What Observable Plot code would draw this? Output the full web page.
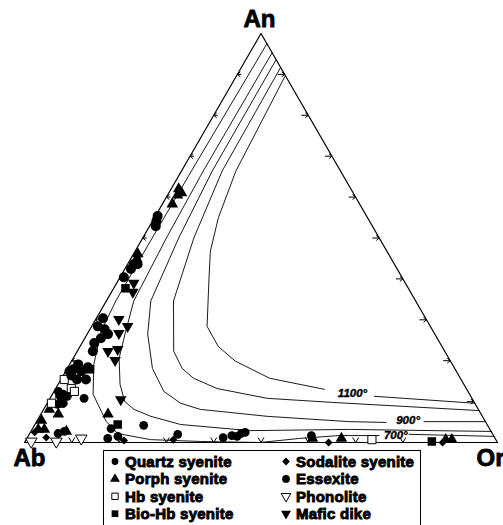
<!DOCTYPE html>
<html><head><meta charset="utf-8">
<script src="https://cdn.jsdelivr.net/npm/d3@7"></script>
<script src="https://cdn.jsdelivr.net/npm/@observablehq/plot@0.6"></script>
<style>
html,body{margin:0;padding:0;background:#fff;overflow:hidden;}
#wrap{position:relative;width:503px;height:525px;}
#wrap svg.leg{position:absolute;left:0;top:0;}
</style></head><body><div id="wrap"></div>
<script>
// ---- data: ternary compositions as [Or %, An %] (Ab = 100 - Or - An) ----
const vertexLabels = ["Ab", "Or", "An"];
const tickValues = [10, 20, 30, 40, 50, 60, 70, 80, 90];
const isothermNames = ["1100°", "900°", "700°"];
const isothermLabelPos = [[63.3, 12.1], [78.4, 5.4], [77.6, 1.8]];

// isotherms (null = gap for label)
const iso1100 = [[10.3,89.7],[11.5,66.4],[13.5,55],[15.9,46.8],[19.0,40],[24.4,28.4],[29.2,23.5],[34.6,19.9],[44.0,15.7],[56.9,13.0],null,[68.3,11.3],[90.4,9.6]];
const iso1000 = [[8.3,91.7],[8.6,66.4],[10.8,50],[14.2,34.6],[20.4,22.3],[24.3,18.1],[27.9,15.7],[34.1,13.2],[45.9,10.8],[60.2,9.8],[92.2,7.8]];
const iso900 = [[6.4,93.6],[6.5,66.4],[7.6,50],[9.4,34.6],[12.8,26.5],[18.0,18.1],[23.2,12.5],[28.2,9.6],[33.1,8.1],[48.1,6.4],[66.1,5.1],[74.0,4.9],null,[81.9,5.1],[94.9,5.1]];
const iso800 = [[4.7,95.3],[4.6,66.4],[5.0,50],[5.8,34.6],[7.8,27.2],[9.7,20.6],[13.1,14.2],[16.2,10.0],[19.1,8.1],[23.5,6.4],[30.8,4.4],[46.2,2.9],[67.1,3.2],[97.3,2.7]];
const iso700 = [[2.5,97.5],[2.1,66.4],[2.0,50],[2.0,34.6],[2.6,27.2],[5.1,19.1],[8.6,11.8],[14.7,5.15],[18.6,2.2],[26.3,0.7],[37.1,0.25],[49.8,0],[57.7,1.0],[65.7,1.7],[74.1,1.7],null,[80.3,2.0],[98.5,1.5]];

const categories = ["Quartz syenite","Porph syenite","Hb syenite","Bio-Hb syenite","Sodalite syenite","Essexite","Phonolite","Mafic dike"];

const quartzSyenite = [[7.2,10.8],[23.1,4.2],[16.6,3.4],[17.1,1.0],[19.0,1.5],[6.0,2.2],[7.1,2.7],[31.4,2.0],[41.4,1.2],[43.0,1.7],[44.2,1.5],[44.7,2.2],[45.4,2.5],[59.8,1.7],[0.9,12.5],[2.3,11.8],[2.5,10.5],[3.4,11.3],[2.3,9.3],[3.4,9.6]];
const porphSyenite = [[1.6,62.0],[2.7,61.0],[2.1,60.5],[2.1,58.3],[0.9,46.1],[1.3,44.9],[14.2,6.9],[1.2,8.1],[2.7,9.3],[0.9,5.4],[1.3,3.2],[2.6,3.2],[7.5,2.7],[60.4,1.0],[66.5,1.0],[88.7,0.7],[90.0,0.7],[3.7,6.9]];
const hbSyenite = [[0.7,15.4],[3.3,13.2],[4.3,12.5],[73.1,0.7],[0.9,9.6]];
const bioHbSyenite = [[2.5,37.7],[4.9,17.9],[17.5,4.4],[86.0,0.25],[1.5,11.8]];
const sodaliteSyenite = [[0.9,2.5],[4.0,1.2],[20.8,0.5],[31.1,0.7],[64.3,0],[88.4,0]];
const essexite = [[0.45,55.4],[0.8,54.2],[1.3,52.9],[1.3,43.6],[2.1,43.6],[1.3,42.4],[0.8,40.4],[1.4,30.4],[1.3,28.4],[3.1,27.7],[4.4,26.5],[3.4,25.5],[2.6,24.3],[3.3,22.3],[1.8,19.1],[1.4,17.9],[1.7,16.4],[3.3,17.4],[4.2,18.4],[3.4,15.4],[5.3,15.4],[0.8,17.4]];
const phonolite = [[1.3,0.25],[6.6,0.25],[11.5,1.0]];
const maficDike = [[3.6,39.0],[4.5,36.8],[4.9,30.1],[7.6,28.4],[6.6,26.7],[6.5,22.3],[8.3,22.8],[9.1,20.1],[15.1,10.5]];

// ---- helpers ----
function tern(or, an) { return {x: or / 100 + an / 200, y: an / 100}; }
const triangleDown = {
  draw(context, size) {
    const y = -Math.sqrt(size / (Math.sqrt(3) * 3));
    context.moveTo(0, -y * 2);
    context.lineTo(-Math.sqrt(3) * y, y);
    context.lineTo(Math.sqrt(3) * y, y);
    context.closePath();
  }
};
const symbolTypes = {circle: d3.symbolCircle, triangle: d3.symbolTriangle, square: d3.symbolSquare, diamond2: d3.symbolDiamond2};

const W = 503, H = 525, mL = 24, mR = 6, mT = 33, mB = 83;
const kx = 1 / (W - mL - mR), ky = 1 / (H - mT - mB);

const isoRows = [];
[["1100", iso1100], ["1000", iso1000], ["900", iso900], ["800", iso800], ["700", iso700]].forEach(([name, arr]) => {
  arr.forEach(p => {
    if (p === null) isoRows.push({name, x: NaN, y: NaN});
    else isoRows.push({name, ...tern(p[0], p[1])});
  });
});

const frame = [tern(0, 0), tern(100, 0), tern(0, 100), tern(0, 0)];

const tickSegs = [];
for (const t of tickValues) {
  let p = tern(0, t); // Ab–An edge
  tickSegs.push({x1: p.x, y1: p.y, x2: p.x + 4 * kx, y2: p.y});
  tickSegs.push({x1: p.x, y1: p.y, x2: p.x + 3 * kx, y2: p.y + 2.5 * ky});
  tickSegs.push({x1: p.x, y1: p.y, x2: p.x + 3 * kx, y2: p.y - 2.5 * ky});
  p = tern(100 - t, t); // Or–An edge
  tickSegs.push({x1: p.x - 7 * kx, y1: p.y, x2: p.x, y2: p.y});
  tickSegs.push({x1: p.x, y1: p.y, x2: p.x - 3 * kx, y2: p.y + 2.5 * ky});
  tickSegs.push({x1: p.x, y1: p.y, x2: p.x - 3 * kx, y2: p.y - 2.5 * ky});
  p = tern(t, 0); // Ab–Or base
  tickSegs.push({x1: p.x, y1: p.y, x2: p.x - 3 * kx, y2: p.y + 5 * ky});
  tickSegs.push({x1: p.x, y1: p.y, x2: p.x + 3 * kx, y2: p.y + 5 * ky});
}

const styles = [
  {data: quartzSyenite, symbol: "circle", r: 4.4, fill: "black", stroke: "none"},
  {data: porphSyenite, symbol: "triangle", r: 4.3, fill: "black", stroke: "none"},
  {data: hbSyenite, symbol: "square", r: 4.6, fill: "white", stroke: "black"},
  {data: bioHbSyenite, symbol: "square", r: 4.8, fill: "black", stroke: "none"},
  {data: sodaliteSyenite, symbol: "diamond2", r: 3.6, fill: "black", stroke: "none"},
  {data: essexite, symbol: "circle", r: 5.0, fill: "black", stroke: "none"},
  {data: phonolite, symbol: triangleDown, r: 4.3, fill: "white", stroke: "black"},
  {data: maficDike, symbol: triangleDown, r: 4.3, fill: "black", stroke: "none"}
];

const dotMarks = styles.map((s, i) => Plot.dot(s.data.map(p => ({cat: categories[i], ...tern(p[0], p[1])})), {
  x: "x", y: "y", symbol: s.symbol, r: s.r, fill: s.fill, stroke: s.stroke, strokeWidth: 1
}));

const labelRows = isothermNames.map((t, i) => ({text: t, ...tern(isothermLabelPos[i][0], isothermLabelPos[i][1])}));
const vAb = tern(0, 0), vOr = tern(100, 0), vAn = tern(0, 100);

const font = "'Liberation Sans', Arial, Helvetica, sans-serif";
const vStyle = {x: "x", y: "y", fontSize: 24, fontWeight: "bold", fill: "black", stroke: "black", strokeWidth: 0.8};
const chart = Plot.plot({
  width: W, height: H,
  marginLeft: mL, marginRight: mR, marginTop: mT, marginBottom: mB,
  x: {domain: [0, 1], axis: null},
  y: {domain: [0, 1], axis: null},
  style: {background: "white", fontFamily: font, overflow: "hidden"},
  marks: [
    Plot.line(isoRows, {x: "x", y: "y", z: "name", stroke: "black", strokeWidth: 0.9}),
    Plot.line(frame, {x: "x", y: "y", stroke: "black", strokeWidth: 1.2}),
    Plot.link(tickSegs, {x1: "x1", y1: "y1", x2: "x2", y2: "y2", stroke: "black", strokeWidth: 1}),
    ...dotMarks,
    Plot.text(labelRows, {x: "x", y: "y", text: "text", fontSize: 11.5, fontWeight: "bold", fontStyle: "italic", fill: "black", stroke: "black", strokeWidth: 0.4}),
    Plot.text([vAb], {...vStyle, text: () => vertexLabels[0], dx: 5, dy: 16, textAnchor: "middle"}),
    Plot.text([vOr], {...vStyle, text: () => vertexLabels[1], dx: -21, dy: 16, textAnchor: "start"}),
    Plot.text([vAn], {...vStyle, text: () => vertexLabels[2], dx: -1.5, dy: -14, textAnchor: "middle"})
  ]
});
const wrap = document.getElementById("wrap");
wrap.appendChild(chart);

// ---- legend (below the triangle) ----
const leg = d3.create("svg").attr("class", "leg").attr("width", W).attr("height", H);
leg.append("rect").attr("x", 103.5).attr("y", 450.5).attr("width", 317).attr("height", 100)
  .attr("fill", "none").attr("stroke", "black").attr("stroke-width", 1);
const legendSizes = [3.4, 3.7, 3.6, 3.8, 3.5, 3.9, 3.6, 3.7];
categories.forEach((c, i) => {
  const col = i < 4 ? 0 : 1, row = i % 4;
  const sx = col === 0 ? 115 : 286, tx = col === 0 ? 125 : 296;
  const cy = 461.5 + row * 17.4;
  const s = styles[i];
  const type = typeof s.symbol === "string" ? symbolTypes[s.symbol] : s.symbol;
  leg.append("path").attr("transform", `translate(${sx},${cy})`)
    .attr("d", d3.symbol(type, Math.PI * legendSizes[i] * legendSizes[i])())
    .attr("fill", s.fill).attr("stroke", s.stroke === "none" ? null : s.stroke).attr("stroke-width", 1);
  leg.append("text").attr("x", tx).attr("y", cy + 5.3).text(c)
    .attr("font-family", font).attr("font-size", 15).attr("font-weight", "bold")
    .attr("letter-spacing", 0.25).attr("stroke", "black").attr("stroke-width", 0.9).attr("fill", "black");
});
wrap.appendChild(leg.node());
</script></body></html>
